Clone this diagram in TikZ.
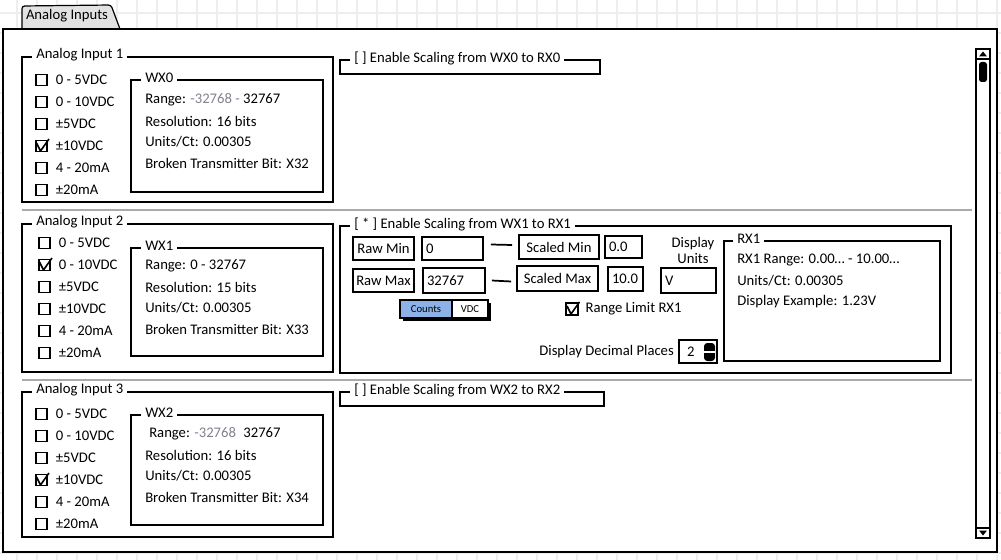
\documentclass[tikz,border=0pt]{standalone}
\usepackage{fontspec}
\setmainfont{Carlito}
\usetikzlibrary{positioning}
\definecolor{raster}{RGB}{238,238,238}
\definecolor{trenner}{RGB}{170,170,170}
\definecolor{reiter}{RGB}{226,226,226}
\definecolor{counts}{RGB}{140,178,232}
\definecolor{grau}{RGB}{130,130,145}

\begin{document}
\begin{tikzpicture}[x=0.75pt, y=-0.75pt, font=\fontsize{11}{13}\selectfont,
    rahmen/.style={draw=black, line width=1.9pt},
    titel/.style={fill=white, inner xsep=3pt, inner ysep=0pt, anchor=west, yshift=1.5pt},
    kbox/.style={draw=black, line width=1pt, fill=white, minimum size=8.25pt, inner sep=0pt},
    haken/.style={line width=1.2pt, line join=round},
    eintrag/.style={anchor=west, inner sep=0pt},
    knopf/.style={draw=black, line width=1.4pt, fill=white, inner sep=0pt},
    wert/.style={knopf, align=left, inner xsep=3pt},
    verbinder/.style={line width=1.3pt}]

    \useasboundingbox (0,0) rectangle (1001,560);

    % Raster
    \foreach \gx in {17,37,...,997}{
        \draw[raster, line width=0.8pt] (\gx,0) -- (\gx,560);
    }
    \foreach \gy in {13,33,...,553}{
        \draw[raster, line width=0.8pt] (0,\gy) -- (1001,\gy);
    }

    % Reiter und Fenster
    \draw[fill=reiter, line width=0.9pt, rounded corners=2pt] (22,30) -- (22,6) -- (111,5) -- (120,29);
    \node (reiter) at (67,16) {Analog Inputs};
    \draw[rahmen, fill=white] (3,29) rectangle (997,552);

    % Bildlaufleiste
    \draw[line width=1.2pt, fill=white] (976,49) rectangle (990,538);
    \draw[line width=1.2pt] (976,59) -- (990,59) (976,528) -- (990,528);
    \fill (983,51.5) -- (987,56.5) -- (979,56.5) -- cycle;
    \fill (983,535.5) -- (987,530.5) -- (979,530.5) -- cycle;
    \fill[rounded corners=2pt] (979,62) rectangle (987,82);

    % Trenner
    \draw[trenner, line width=1.3pt] (22,210) -- (972,210);
    \draw[trenner, line width=1.3pt] (22,380) -- (972,380);

    % Analog Input 1..3
    \foreach \n/\yo/\yu in {1/57/202, 2/224/372, 3/392/537}{
        \draw[rahmen] (22,\yo) rectangle (333,\yu);
        \node[titel] (ai\n) at (32,\yo) {Analog Input \n};
    }
    \foreach \n/\yo/\yu in {0/80/192, 1/248/356, 2/415/525}{
        \draw[rahmen] (131,\yo) rectangle (323,\yu);
        \node[titel] (wx\n) at (141,\yo) {WX\n};
    }

    % Ankreuzfelder
    \foreach \n/\x/\y/\h in {1/41.5/80/3, 2/44.5/243/1, 3/41.5/414/3}{
        \foreach \t [count=\i from 0] in {0 - 5VDC, 0 - 10VDC, ±5VDC, ±10VDC, 4 - 20mA, ±20mA}{
            \node[kbox] (k\n-\i) at (\x,\y+22*\i) {};
            \node[eintrag, right=6pt of k\n-\i] {\t};
        }
        \draw[haken] (k\n-\h.center) ++(-5,-3) -- ++(4,8) -- ++(8.5,-12);
    }

    % WX Texte
    \node[eintrag] at (145,100) {Range: {\color{grau}-32768 -} 32767};
    \node[eintrag] at (145,266) {Range: 0 - 32767};
    \node[eintrag] at (149,434) {Range: {\color{grau}-32768}\enspace 32767};
    \foreach \y/\b/\x in {121/16/X32, 287/15/X33, 455/16/X34}{
        \node[eintrag] at (145,\y) {Resolution: \b\ bits};
        \node[eintrag] at (145,\y+21) {Units/Ct: 0.00305};
        \node[eintrag] at (145,\y+42) {Broken Transmitter Bit: \x};
    }

    % Skalierung
    \draw[rahmen] (340,60) rectangle (600,74);
    \node[titel] (skal0) at (350,60) {[ ] Enable Scaling from WX0 to RX0};
    \draw[rahmen] (340,226) rectangle (951,373);
    \node[titel] (skal1) at (350,226) {[ * ] Enable Scaling from WX1 to RX1};
    \draw[rahmen] (340,392) rectangle (604,406);
    \node[titel] (skal2) at (350,392) {[ ] Enable Scaling from WX2 to RX2};

    \node[knopf, minimum width=45.75pt, minimum height=17.25pt] (rawmin) at (383.5,248.5) {Raw Min};
    \node[wert, text width=39.75pt, minimum height=17.25pt] (rawminwert) at (452.5,248.5) {0};
    \node[knopf, minimum width=60pt, minimum height=18pt] (scaledmin) at (559,247) {Scaled Min};
    \node[wert, text width=21.75pt, minimum height=16.5pt] (scaledminwert) at (623.5,247) {0.0};
    \node[knopf, minimum width=45.75pt, minimum height=17.25pt] (rawmax) at (383.5,280.5) {Raw Max};
    \node[wert, text width=40.5pt, minimum height=18.75pt] (rawmaxwert) at (454,280.5) {32767};
    \node[knopf, minimum width=60.75pt, minimum height=18.75pt] (scaledmax) at (557.5,278.5) {Scaled Max};
    \node[wert, text width=20.25pt, minimum height=18pt] (scaledmaxwert) at (625.5,279) {10.0};
    \node[align=center, font=\fontsize{11}{12}\selectfont] (einheit) at (693,250) {Display\\Units};
    \node[wert, text width=35.25pt, minimum height=18.75pt] (einheitwert) at (688.5,280.5) {V};

    \draw[verbinder] ([shift={(7,-4)}]rawminwert.east) -- ([shift={(-6,-2)}]scaledmin.west);
    \draw[verbinder] ([shift={(6,0)}]rawmaxwert.east) -- ([shift={(-5,3)}]scaledmax.west);

    % Umschalter
    \fill (403,303) rectangle (491,321);
    \node[knopf, fill=counts, minimum width=39pt, minimum height=13.5pt, font=\fontsize{8}{9}\selectfont] (counts) at (426,309) {Counts};
    \node[knopf, minimum width=27pt, minimum height=13.5pt, font=\fontsize{8}{9}\selectfont] (vdc) at (470,309) {VDC};

    \node[kbox, minimum size=9pt] (limit) at (572,309) {};
    \draw[haken] (limit.center) ++(-5,-3) -- ++(4,8) -- ++(8.5,-12);
    \node[eintrag, right=5pt of limit] (limittext) {Range Limit RX1};

    \node[wert, text width=16.5pt, inner xsep=6pt, minimum height=17.25pt] (stellen) at (698,351.5) {2};
    \fill[rounded corners=2.5pt] (704,343) rectangle (715,361);
    \draw[white, line width=1pt] (704,352) -- (715,352);
    \node[eintrag, left=3pt of stellen] (stellentext) {Display Decimal Places};

    % RX1
    \draw[rahmen] (724,241) rectangle (940,361);
    \node[titel] (rx1) at (733,241) {RX1};
    \node[eintrag] at (737,260) {RX1 Range: 0.00… - 10.00…};
    \node[eintrag] at (737,281) {Units/Ct: 0.00305};
    \node[eintrag] at (737,302) {Display Example: 1.23V};

\end{tikzpicture}
\end{document}
